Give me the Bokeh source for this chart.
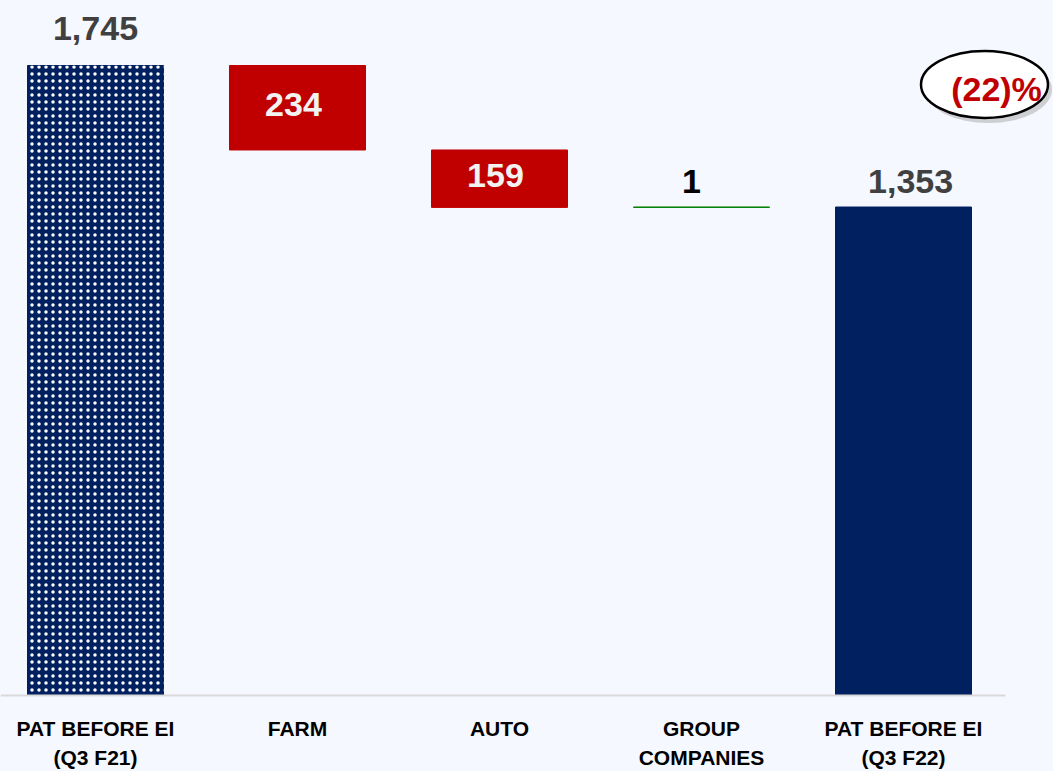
from bokeh.plotting import figure
from bokeh.models import Range1d, ColumnDataSource
from bokeh.core.properties import value
from bokeh.embed import file_html
from bokeh.resources import INLINE

# ---------------- data ----------------
categories = ["PAT BEFORE EI\n(Q3 F21)", "FARM", "AUTO", "GROUP\nCOMPANIES", "PAT BEFORE EI\n(Q3 F22)"]
amounts = [1745, -234, -159, 1, 1353]
kinds = ["total", "delta", "delta", "delta", "total"]
value_labels = ["1,745", "234", "159", "1", "1,353"]
change_label = "(22)%"

# ---------------- styling ----------------
BG = "#F5F8FE"
NAVY = "#002060"
RED = "#C00000"
GREEN = "#008000"
FONT = "Liberation Sans"

W, H = 1053, 771
x_start, x_end = -95 / 202, (W - 95) / 202
ppu = 630 / 1745.0            # pixels per unit
y_end = 695 / ppu
y_start = -(H - 695) / ppu

# ---------------- waterfall geometry ----------------
xs = list(range(len(categories)))
bottoms, tops = [], []
running = 0
for a, k in zip(amounts, kinds):
    if k == "total":
        bottoms.append(0)
        tops.append(a)
        running = a
    else:
        new = running + a
        bottoms.append(min(running, new))
        tops.append(max(running, new))
        running = new

colors = []
for i, (a, k) in enumerate(zip(amounts, kinds)):
    if k == "total":
        colors.append(NAVY)
    else:
        colors.append(RED if a < 0 else GREEN)

p = figure(width=W, height=H, x_range=Range1d(x_start, x_end), y_range=Range1d(y_start, y_end),
           output_backend="svg", toolbar_location=None, min_border=0)
p.axis.visible = False
p.grid.visible = False
p.outline_line_color = None
p.background_fill_color = BG
p.border_fill_color = BG

bw = 136 / 202
src = ColumnDataSource(dict(x=xs, bottom=bottoms, top=tops, color=colors))
p.vbar(x="x", bottom="bottom", top="top", width=bw, source=src,
       fill_color="color", line_color="color", line_width=1)

# dotted pattern on the first total bar
p.vbar(x=[xs[0]], bottom=[bottoms[0]], top=[tops[0]], width=bw,
       fill_alpha=0, line_color=None, hatch_pattern="dot", hatch_color="white",
       hatch_scale=7, hatch_weight=2)

# baseline
p.segment(x0=[x_start], x1=[(1005 - 95) / 202], y0=[0], y1=[0], line_color="#D9D9D9", line_width=2)

# ---------------- value labels ----------------
lx, ly, lcol = [], [], []
for i, (a, k) in enumerate(zip(amounts, kinds)):
    if k == "total":
        off = 37 if i == 0 else 26
        lx.append(xs[i] + (0 if i == 0 else 0.035))
        ly.append(tops[i] + off / ppu)
        lcol.append("#404040")
    elif a < 0:
        lx.append(xs[i] - 0.02)
        ly.append((bottoms[i] + tops[i]) / 2 + 3 / ppu)
        lcol.append("#F2F2F2")
    else:
        lx.append(xs[i] - 0.05)
        ly.append(tops[i] + 26 / ppu)
        lcol.append("#000000")
p.text(x=lx, y=ly, text=value_labels, text_color=lcol, text_font=value(FONT),
       text_font_style="bold", text_font_size="34px", text_align="center", text_baseline="middle")

# ---------------- category labels ----------------
l1 = [c.split("\n")[0] for c in categories]
l2 = [c.split("\n")[1] if "\n" in c else "" for c in categories]
p.text(x=xs, y=[-(728 - 695) / ppu] * len(xs), text=l1, text_color="#000000", text_font=value(FONT),
       text_font_style="bold", text_font_size="21px", text_align="center", text_baseline="middle")
p.text(x=xs, y=[-(757 - 695) / ppu] * len(xs), text=l2, text_color="#000000", text_font=value(FONT),
       text_font_style="bold", text_font_size="21px", text_align="center", text_baseline="middle")

# ---------------- change callout ----------------
cx = xs[-1] + (986 - 905) / 202
cy = tops[0] - (84 - 65) / ppu
p.ellipse(x=[cx + 4 / 202], y=[cy - 5 / ppu], width=127, height=67, width_units="screen", height_units="screen",
          fill_color="#A6A6A6", fill_alpha=0.5, line_color=None)
p.ellipse(x=[cx], y=[cy], width=127, height=67, width_units="screen", height_units="screen",
          fill_color="white", line_color="black", line_width=2.5)
p.text(x=[cx + 12 / 202], y=[cy - 4 / ppu], text=[change_label], text_color=RED, text_font=value(FONT),
       text_font_style="bold", text_font_size="34px", text_align="center", text_baseline="middle")

html = file_html(p, INLINE)
html = html.replace("<head>", "<head><style>html,body{margin:0;padding:0;overflow:hidden;background:%s;}</style>" % BG, 1)
open("out.html", "w").write(html)
